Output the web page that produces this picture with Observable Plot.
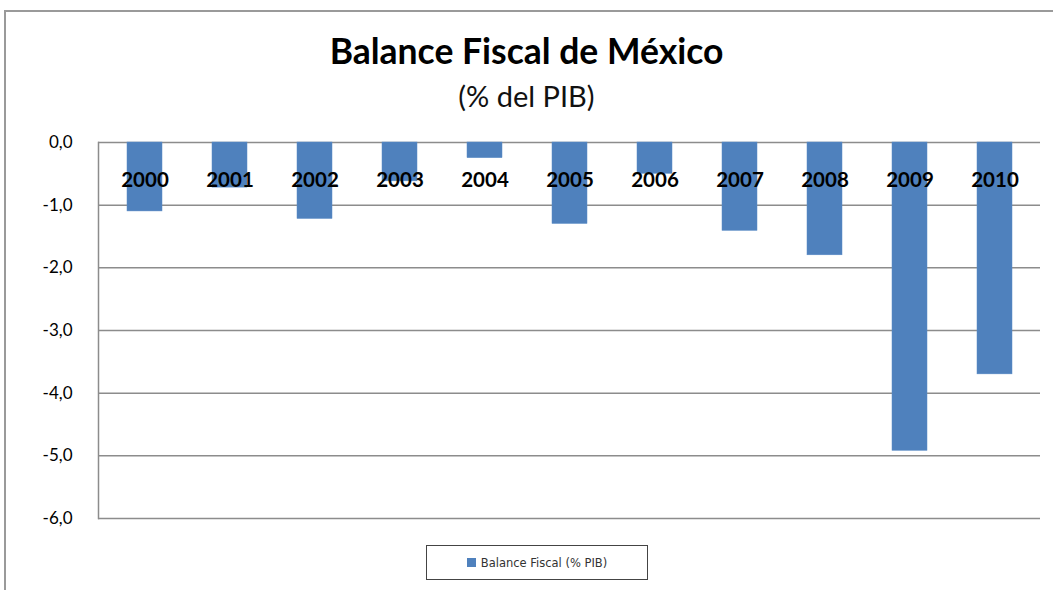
<!DOCTYPE html>
<html><head><meta charset="utf-8">
<script src="https://cdn.jsdelivr.net/npm/d3@7"></script>
<script src="https://cdn.jsdelivr.net/npm/@observablehq/plot@0.6"></script>
<style>
body{margin:0;background:#fff;font-family:Lato,"Open Sans",sans-serif;}
#wrap{position:relative;width:1053px;height:590px;overflow:hidden;}
#frame{position:absolute;left:4px;top:10px;width:1100px;height:600px;border-left:2px solid #9a9a9a;border-top:2px solid #9a9a9a;}
#title{position:absolute;left:0;width:1053px;top:29px;line-height:44px;text-align:center;font-weight:bold;font-size:35.5px;color:#000;}
#subtitle{position:absolute;left:0;width:1053px;top:78px;line-height:36px;text-align:center;font-size:29px;color:#111;}
#chart{position:absolute;left:0;top:120px;}
#legend{position:absolute;left:426px;top:545px;width:222px;height:35px;border:1.5px solid #444;box-sizing:border-box;font-family:'DejaVu Sans',Verdana,sans-serif;font-size:11.5px;color:#333;display:flex;align-items:center;justify-content:center;gap:5px;}
#legend span.sw{display:inline-block;width:9px;height:9px;background:#4f81bd;}
</style></head>
<body>
<div id="wrap">
<div id="frame"></div>
<div id="title">Balance Fiscal de México</div>
<div id="subtitle">(% del PIB)</div>
<div id="chart"></div>
<div id="legend"><span class="sw"></span><span id="legtext"></span></div>
</div>
<script>
const years = ["2000","2001","2002","2003","2004","2005","2006","2007","2008","2009","2010"];
const balance = [-1.1, -0.72, -1.22, -0.62, -0.25, -1.3, -0.5, -1.41, -1.8, -4.92, -3.7];
const yTicks = [0, -1, -2, -3, -4, -5, -6];
const seriesName = "Balance Fiscal (% PIB)";

const data = years.map((y, i) => ({year: y, value: balance[i]}));
const fmt = d => d.toFixed(1).replace(".", ",");

const plot = Plot.plot({
  width: 1053,
  height: 420,
  marginTop: 22,
  marginBottom: 22,
  marginLeft: 98,
  marginRight: 13,
  style: {fontFamily: "Lato, 'Open Sans', sans-serif", background: "transparent"},
  x: {domain: years, paddingInner: 0.59, paddingOuter: 0.295, axis: null},
  y: {domain: [-6, 0], axis: null},
  marks: [
    Plot.ruleY(yTicks, {stroke: "#8c8c8c", strokeWidth: 1.5}),
    Plot.frame({anchor: "left", stroke: "#8c8c8c", strokeWidth: 1.5}),
    Plot.axisY(yTicks, {tickSize: 0, tickPadding: 26, tickFormat: fmt, fontSize: 17, fill: "#000", label: null}),
    Plot.barY(data, {x: "year", y: "value", fill: "#4f81bd", stroke: "#5a8bc6", strokeWidth: 0.5}),
    Plot.text(years, {x: d => d, frameAnchor: "top", dy: 30, text: d => d, fontSize: 20.5, fontWeight: "bold", fill: "#000"})
  ]
});
document.getElementById("chart").appendChild(plot);
document.getElementById("legtext").textContent = seriesName;
</script>
</body></html>
